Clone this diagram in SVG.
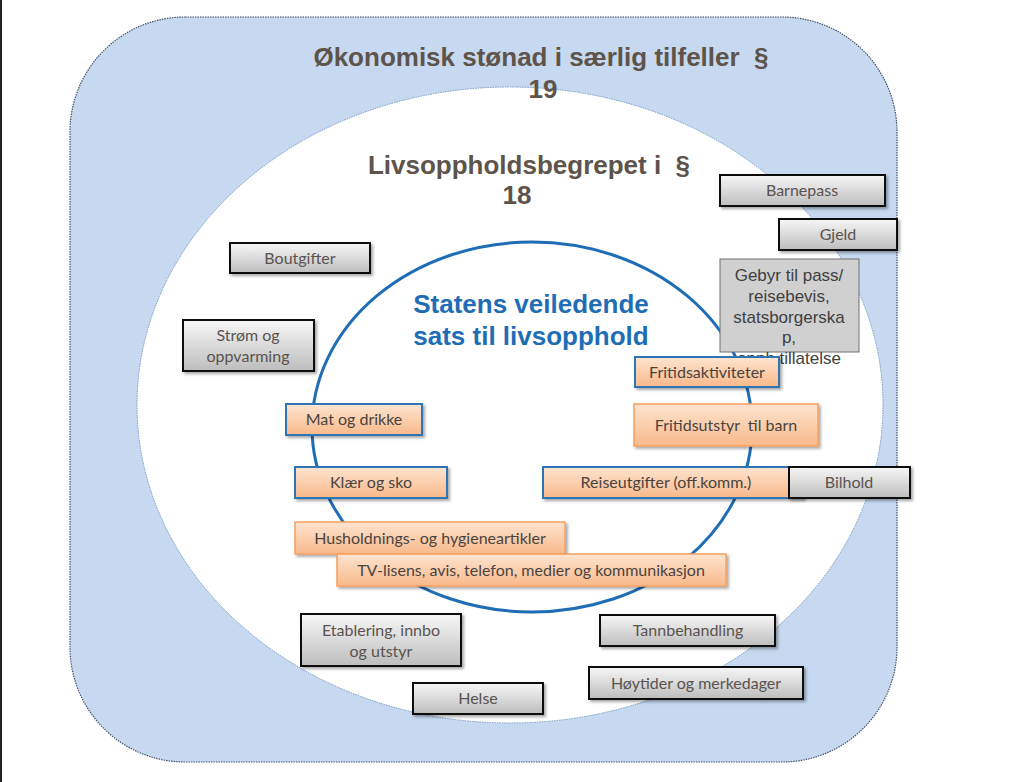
<svg xmlns="http://www.w3.org/2000/svg" width="1024" height="782" viewBox="0 0 1024 782">
<defs>
<linearGradient id="gGrey" x1="0" y1="0" x2="0" y2="1">
<stop offset="0" stop-color="#f7f7f7"/>
<stop offset="1" stop-color="#bdbdbd"/>
</linearGradient>
<linearGradient id="gOrange" x1="0" y1="0" x2="0" y2="1">
<stop offset="0" stop-color="#fde4d0"/>
<stop offset="1" stop-color="#f9b98a"/>
</linearGradient>
<filter id="sh" x="-10%" y="-20%" width="125%" height="150%">
<feDropShadow dx="2" dy="2" stdDeviation="1.5" flood-color="#000" flood-opacity="0.35"/>
</filter>
<style>
.grey{fill:url(#gGrey);stroke:#111;stroke-width:2;filter:url(#sh)}
.orB{fill:url(#gOrange);stroke:#2e75b6;stroke-width:2;filter:url(#sh)}
.orO{fill:url(#gOrange);stroke:#f5a060;stroke-width:1.5;filter:url(#sh)}
.t{font-family:Lato,"Open Sans","Liberation Sans",sans-serif;font-size:16px;fill:#5a5350;text-anchor:middle}
.to{font-family:Lato,"Open Sans","Liberation Sans",sans-serif;font-size:16px;fill:#4a4440;text-anchor:middle}
.h{font-family:"Liberation Sans",Arial,sans-serif;font-weight:bold;font-size:26px;fill:#5e544b;text-anchor:middle}
.hb{font-family:"Liberation Sans",Arial,sans-serif;font-weight:bold;font-size:26px;fill:#1f6db5;text-anchor:middle}
.ta{font-family:"Liberation Sans",Arial,sans-serif;font-size:17px;fill:#404040;text-anchor:middle}
</style>
</defs>
<rect x="0" y="0" width="1024" height="782" fill="#ffffff"/>
<line x1="1" y1="0" x2="1" y2="782" stroke="#222" stroke-width="2"/>

<g id="outer">
<rect x="70" y="17" width="827" height="745" rx="115" ry="115" fill="#c6d9f0" stroke="#44506a" stroke-width="1.2" stroke-dasharray="1.5 1"/>
<text class="h" x="541" y="66">Økonomisk stønad i særlig tilfeller&#160; §</text>
</g>
<g id="inner">
<ellipse cx="510" cy="405" rx="373" ry="318" fill="#ffffff" stroke="#7a9cc4" stroke-width="1" stroke-dasharray="1.5 1"/>
</g>
<text class="h" x="543" y="98">19</text>
<text class="h" x="529" y="174">Livsoppholdsbegrepet i&#160; §</text>
<text class="h" x="517" y="204">18</text>

<g id="statens">
<ellipse cx="532" cy="427" rx="220" ry="185" fill="none" stroke="#1f6db5" stroke-width="3"/>
<text class="hb" x="531" y="313">Statens veiledende</text>
<text class="hb" x="531" y="345">sats til livsopphold</text>
</g>

<g id="barnepass"><rect class="grey" x="720" y="175" width="165" height="31"/><text class="t" x="802" y="196">Barnepass</text></g>
<g id="gjeld"><rect class="grey" x="779" y="219" width="118" height="31"/><text class="t" x="838" y="240">Gjeld</text></g>
<g id="gebyr"><rect x="720" y="259" width="139" height="93" fill="#d0d0d0" stroke="#707070" stroke-width="1"/>
<text class="ta" x="789" y="281">Gebyr til pass/</text>
<text class="ta" x="789" y="302">reisebevis,</text>
<text class="ta" x="789" y="323">statsborgerska</text>
<text class="ta" x="789" y="343">p,</text>
<text class="ta" x="789" y="364">opph.tillatelse</text></g>
<g id="boutgifter"><rect class="grey" x="230" y="243" width="140" height="30"/><text class="t" x="300" y="264">Boutgifter</text></g>
<g id="strom"><rect class="grey" x="183" y="320" width="131" height="51"/><text class="t" x="248" y="341">Strøm og</text><text class="t" x="248" y="362">oppvarming</text></g>

<g id="fritidsaktiviteter"><rect class="orB" x="635" y="357" width="144" height="30"/><text class="to" x="707" y="378">Fritidsaktiviteter</text></g>
<g id="fritidsutstyr"><rect class="orO" x="634" y="404" width="184" height="42"/><text class="to" x="726" y="431">Fritidsutstyr&#160; til barn</text></g>
<g id="mat"><rect class="orB" x="286" y="404" width="136" height="31"/><text class="to" x="354" y="425">Mat og drikke</text></g>
<g id="klaer"><rect class="orB" x="295" y="467" width="152" height="31"/><text class="to" x="371" y="488">Klær og sko</text></g>
<g id="reise"><rect class="orB" x="543" y="467" width="260" height="31"/><text class="to" x="666" y="488">Reiseutgifter (off.komm.)</text></g>
<g id="bilhold"><rect class="grey" x="789" y="467" width="121" height="31"/><text class="t" x="849" y="488">Bilhold</text></g>
<g id="hushold"><rect class="orO" x="295" y="522" width="270" height="32"/><text class="to" x="430" y="544">Husholdnings- og hygieneartikler</text></g>
<g id="tv"><rect class="orO" x="337" y="554" width="389" height="32"/><text class="to" x="531" y="576">TV-lisens, avis, telefon, medier og kommunikasjon</text></g>

<g id="etablering"><rect class="grey" x="301" y="614" width="160" height="52"/><text class="t" x="381" y="636">Etablering, innbo</text><text class="t" x="381" y="657">og utstyr</text></g>
<g id="tann"><rect class="grey" x="600" y="615" width="175" height="31"/><text class="t" x="688" y="636">Tannbehandling</text></g>
<g id="helse"><rect class="grey" x="413" y="683" width="130" height="31"/><text class="t" x="478" y="704">Helse</text></g>
<g id="hoytider"><rect class="grey" x="589" y="667" width="214" height="32"/><text class="t" x="696" y="689">Høytider og merkedager</text></g>
<g id="connectors"></g>
</svg>
